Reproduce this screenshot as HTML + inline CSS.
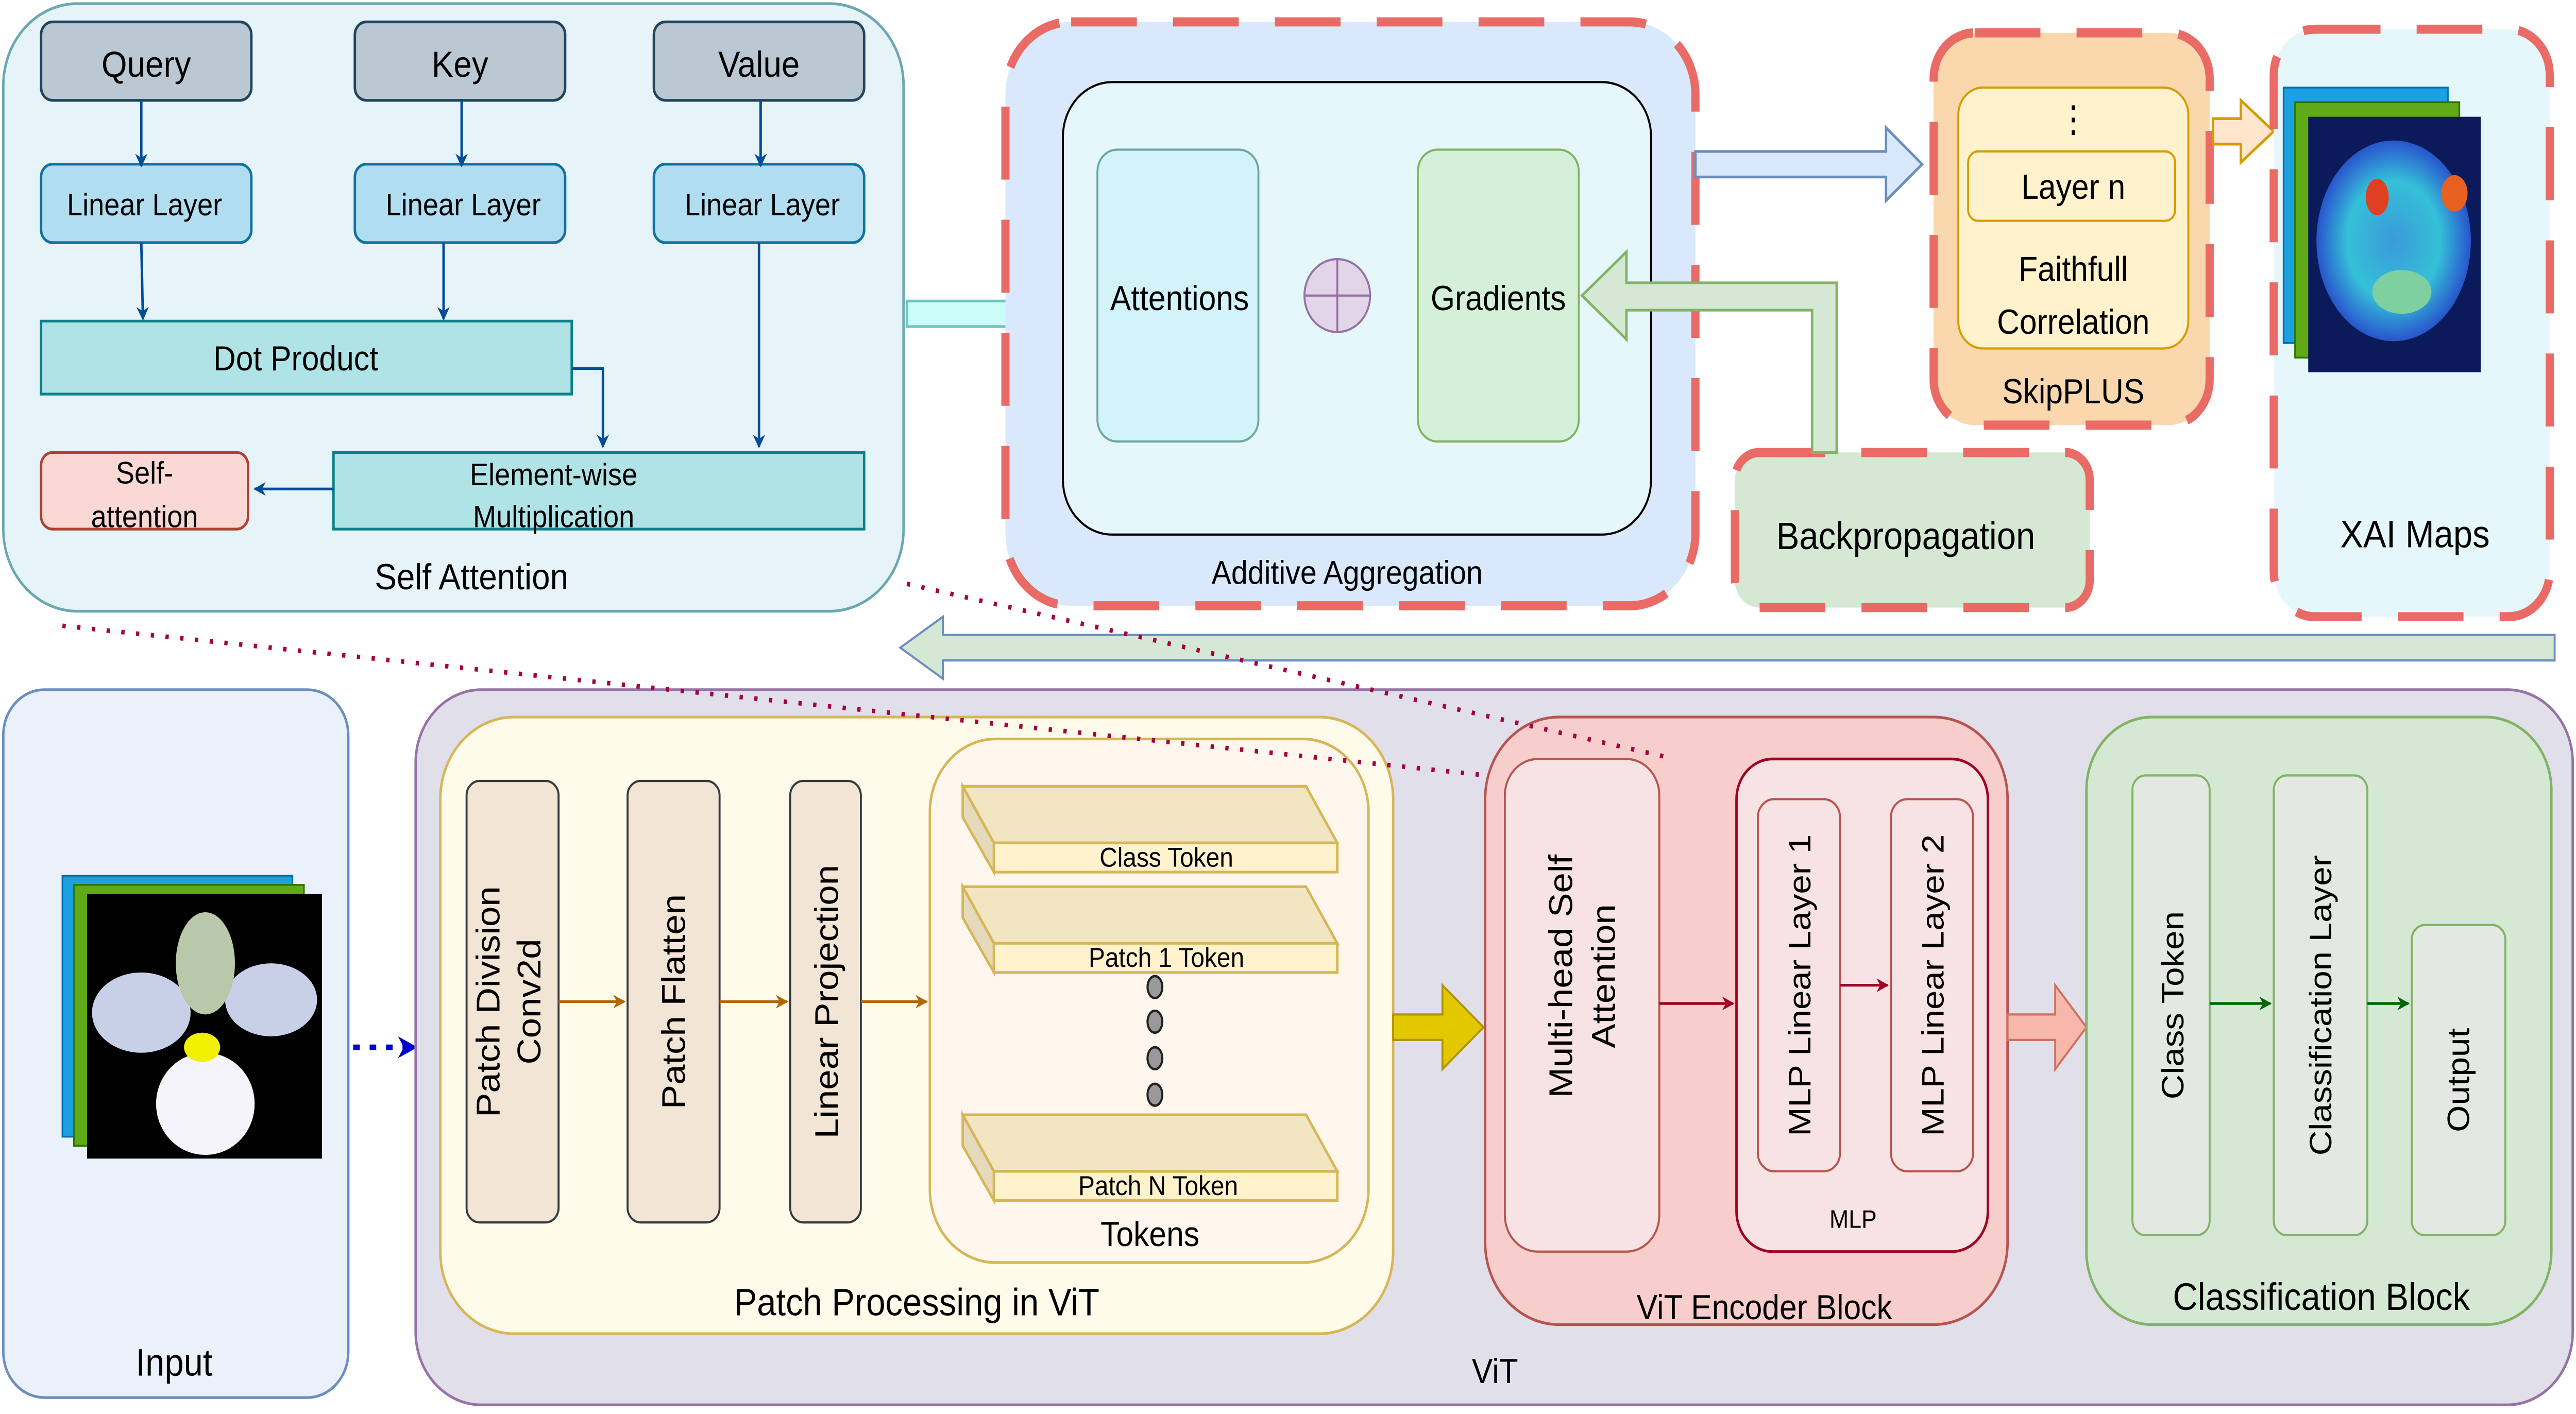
<!DOCTYPE html>
<html><head><meta charset="utf-8"><style>html,body{margin:0;padding:0;background:#fff;width:100%;height:100%;overflow:hidden}svg{display:block;position:absolute;left:0;top:0;width:100vw;height:100vh}text{font-family:"Liberation Sans",sans-serif;fill:#000}</style></head><body>
<svg viewBox="0 0 1568 775" preserveAspectRatio="none" xmlns="http://www.w3.org/2000/svg">
<defs>
<marker id="ab" viewBox="0 0 10 10" refX="9" refY="5" markerWidth="5" markerHeight="6" orient="auto"><path d="M0,0 L10,5 L0,10 L3,5z" fill="#004c99"/></marker>
<marker id="ao" viewBox="0 0 10 10" refX="9" refY="5" markerWidth="5" markerHeight="6" orient="auto"><path d="M0,0 L10,5 L0,10 L3,5z" fill="#b46504"/></marker>
<marker id="ar" viewBox="0 0 10 10" refX="9" refY="5" markerWidth="5" markerHeight="6" orient="auto"><path d="M0,0 L10,5 L0,10 L3,5z" fill="#a20025"/></marker>
<marker id="ag" viewBox="0 0 10 10" refX="9" refY="5" markerWidth="5" markerHeight="6" orient="auto"><path d="M0,0 L10,5 L0,10 L3,5z" fill="#006600"/></marker>
<marker id="abl" viewBox="0 0 10 10" refX="9" refY="5" markerWidth="4" markerHeight="5" orient="auto"><path d="M0,0 L10,5 L0,10 L3,5z" fill="#0000cc"/></marker>
<radialGradient id="hm" cx="50%" cy="50%" r="60%"><stop offset="0" stop-color="#3a9ad8"/><stop offset="0.5" stop-color="#35c0d8"/><stop offset="0.8" stop-color="#2a5fcf"/><stop offset="1" stop-color="#1a2a8a"/></radialGradient>
</defs>
<rect width="1568" height="775" fill="#fff"/>

<rect x="2" y="2" width="548" height="333" rx="45" fill="#e6f4f9" stroke="#6aa8b0" stroke-width="1.5"/>
<g stroke="#23445d" stroke-width="1.5" fill="#bac8d3">
<rect x="25" y="12" width="128" height="43" rx="7"/><rect x="216" y="12" width="128" height="43" rx="7"/><rect x="398" y="12" width="128" height="43" rx="7"/></g>
<g stroke="#10739e" stroke-width="1.5" fill="#b1ddf0">
<rect x="25" y="90" width="128" height="43" rx="7"/><rect x="216" y="90" width="128" height="43" rx="7"/><rect x="398" y="90" width="128" height="43" rx="7"/></g>
<rect x="25" y="176" width="323" height="40" fill="#b0e3e6" stroke="#0e8088" stroke-width="1.5"/>
<rect x="203" y="248" width="323" height="42" fill="#b0e3e6" stroke="#0e8088" stroke-width="1.5"/>
<rect x="25" y="248" width="126" height="42" rx="7" fill="#fad9d5" stroke="#ae4132" stroke-width="1.5"/>
<g font-size="20" text-anchor="middle">
<text x="89" y="42">Query</text><text x="280" y="42">Key</text><text x="462" y="42">Value</text></g>
<g font-size="17" text-anchor="middle">
<text x="88" y="118">Linear Layer</text><text x="282" y="118">Linear Layer</text><text x="464" y="118">Linear Layer</text>
<text x="180" y="203" font-size="19">Dot Product</text>
<text x="337" y="266">Element-wise</text><text x="337" y="289">Multiplication</text>
<text x="88" y="265">Self-</text><text x="88" y="289">attention</text></g>
<text x="287" y="323" font-size="20" text-anchor="middle">Self Attention</text>
<g stroke="#004c99" stroke-width="1.5" fill="none">
<path d="M86,55V91" marker-end="url(#ab)"/><path d="M281,55V91" marker-end="url(#ab)"/><path d="M463,55V91" marker-end="url(#ab)"/>
<path d="M86,133L87,175" marker-end="url(#ab)"/><path d="M270,133V175" marker-end="url(#ab)"/>
<path d="M348,202H367V245" marker-end="url(#ab)"/><path d="M462,133V245" marker-end="url(#ab)"/>
<path d="M203,268H155" marker-end="url(#ab)"/></g>

<path d="M552,165H636V150L665,172L636,194V179H552Z" fill="#ccfcf8" stroke="#6ec4c0" stroke-width="1.5"/>

<rect x="612" y="12" width="420" height="320" rx="40" fill="#dae8fc" stroke="#ea6b66" stroke-width="5" stroke-dasharray="40 22"/>
<rect x="647" y="45" width="358" height="248" rx="30" fill="#e6f7fc" stroke="#000" stroke-width="1.2"/>
<rect x="668" y="82" width="98" height="160" rx="12" fill="#d3f3fb" stroke="#6ea8a0" stroke-width="1.2"/>
<rect x="863" y="82" width="98" height="160" rx="12" fill="#d5f0d8" stroke="#82b366" stroke-width="1.2"/>
<circle cx="814" cy="162" r="20" fill="#e1d5e7" stroke="#9673a6" stroke-width="1.2"/>
<path d="M794,162H834M814,142V182" stroke="#9673a6" stroke-width="1.2"/>
<text x="718" y="170" font-size="19" text-anchor="middle">Attentions</text>
<text x="912" y="170" font-size="19" text-anchor="middle">Gradients</text>
<text x="820" y="320" font-size="18" text-anchor="middle">Additive Aggregation</text>

<path d="M1032,83H1148V70L1170,90L1148,110V97H1032Z" fill="#dae8fc" stroke="#6c8ebf" stroke-width="1.5"/>

<rect x="1177" y="18" width="168" height="215" rx="25" fill="#fad7ac" stroke="#ea6b66" stroke-width="5" stroke-dasharray="40 22"/>
<rect x="1192" y="48" width="140" height="143" rx="15" fill="#fff2cc" stroke="#d79b00" stroke-width="1.2"/>
<rect x="1198" y="83" width="126" height="38" rx="6" fill="#fff2cc" stroke="#d79b00" stroke-width="1.2"/>
<text x="1262" y="72" font-size="20" text-anchor="middle">⋮</text>
<text x="1262" y="109" font-size="19" text-anchor="middle">Layer n</text>
<text x="1262" y="154" font-size="19" text-anchor="middle">Faithfull</text>
<text x="1262" y="183" font-size="19" text-anchor="middle">Correlation</text>
<text x="1262" y="221" font-size="19" text-anchor="middle">SkipPLUS</text>
<path d="M1347,65H1364V55L1384,72L1364,89V79H1347Z" fill="#ffe6cc" stroke="#d79b00" stroke-width="1.5"/>

<rect x="1384" y="16" width="168" height="322" rx="25" fill="#e6f7fc" stroke="#ea6b66" stroke-width="5" stroke-dasharray="40 22"/>
<rect x="1390" y="48" width="100" height="140" fill="#1ba1e2" stroke="#006eaf"/>
<rect x="1397" y="56" width="100" height="140" fill="#60a917" stroke="#2d7600"/>
<rect x="1405" y="64" width="105" height="140" fill="#0a1a5a"/>
<ellipse cx="1457" cy="132" rx="47" ry="55" fill="url(#hm)"/>
<ellipse cx="1447" cy="108" rx="7" ry="10" fill="#e04020"/>
<ellipse cx="1494" cy="106" rx="8" ry="10" fill="#e86020"/>
<ellipse cx="1462" cy="160" rx="18" ry="12" fill="#7fd0a0"/>
<text x="1470" y="300" font-size="21" text-anchor="middle">XAI Maps</text>

<rect x="1056" y="248" width="216" height="85" rx="15" fill="#d5e8d4" stroke="#ea6b66" stroke-width="5" stroke-dasharray="40 22"/>
<text x="1160" y="301" font-size="21" text-anchor="middle">Backpropagation</text>
<path d="M1103,248V170H990V186L963,162L990,138V155H1118V248Z" fill="#d5e8d4" stroke="#82b366" stroke-width="1.5"/>

<path d="M1555,348H574V338L548,355L574,372V362H1555Z" fill="#d5e8d4" stroke="#6c8ebf" stroke-width="1.2"/>

<rect x="2" y="378" width="210" height="388" rx="25" fill="#eaf1fb" stroke="#6c8ebf" stroke-width="1.5"/>
<rect x="38" y="480" width="140" height="143" fill="#1ba1e2" stroke="#006eaf"/>
<rect x="45" y="485" width="140" height="143" fill="#60a917" stroke="#2d7600"/>
<rect x="53" y="490" width="143" height="145" fill="#000"/>
<ellipse cx="86" cy="555" rx="30" ry="22" fill="#c8d0e8"/>
<ellipse cx="165" cy="548" rx="28" ry="20" fill="#c8d0e8"/>
<ellipse cx="125" cy="528" rx="18" ry="28" fill="#b8c8a8"/>
<ellipse cx="125" cy="605" rx="30" ry="28" fill="#f4f4fa"/>
<ellipse cx="123" cy="574" rx="11" ry="8" fill="#f0f000"/>
<text x="106" y="754" font-size="21" text-anchor="middle">Input</text>
<path d="M215,574H253" stroke="#0000cc" stroke-width="3" stroke-dasharray="4 6" marker-end="url(#abl)"/>

<rect x="253" y="378" width="1313" height="392" rx="40" fill="#e1dfe9" stroke="#9673a6" stroke-width="1.5"/>
<text x="910" y="758" font-size="19" text-anchor="middle">ViT</text>

<rect x="268" y="393" width="580" height="338" rx="45" fill="#fffbeb" stroke="#d6b656" stroke-width="1.5"/>
<rect x="566" y="405" width="267" height="287" rx="40" fill="#fff7ee" stroke="#d6b656" stroke-width="1.5"/>
<g fill="#f3e5d5" stroke="#36393d" stroke-width="1.2">
<rect x="284" y="428" width="56" height="242" rx="8"/><rect x="382" y="428" width="56" height="242" rx="8"/><rect x="481" y="428" width="43" height="242" rx="8"/></g>
<g font-size="20" text-anchor="middle">
<text transform="translate(304,549) rotate(-90)">Patch Division</text>
<text transform="translate(329,549) rotate(-90)">Conv2d</text>
<text transform="translate(417,549) rotate(-90)">Patch Flatten</text>
<text transform="translate(510,549) rotate(-90)">Linear Projection</text></g>
<g stroke="#b46504" stroke-width="1.5"><path d="M340,549H380" marker-end="url(#ao)"/><path d="M438,549H479" marker-end="url(#ao)"/><path d="M524,549H564" marker-end="url(#ao)"/></g>
<g stroke="#d6b656" stroke-width="1.5">
<path d="M586,431H795L814,462H605Z" fill="#f1e5c2"/><path d="M586,431L605,462V478L586,448Z" fill="#e5dabb"/><rect x="605" y="462" width="209" height="16" fill="#fff2cc"/>
<path d="M586,486H795L814,517H605Z" fill="#f1e5c2"/><path d="M586,486L605,517V533L586,503Z" fill="#e5dabb"/><rect x="605" y="517" width="209" height="16" fill="#fff2cc"/>
<path d="M586,611H795L814,642H605Z" fill="#f1e5c2"/><path d="M586,611L605,642V658L586,628Z" fill="#e5dabb"/><rect x="605" y="642" width="209" height="16" fill="#fff2cc"/></g>
<g font-size="15" text-anchor="middle"><text x="710" y="475">Class Token</text><text x="710" y="530">Patch 1 Token</text><text x="705" y="655">Patch N Token</text></g>
<g fill="#999" stroke="#222" stroke-width="1.3"><ellipse cx="703" cy="541" rx="4.5" ry="6"/><ellipse cx="703" cy="560" rx="4.5" ry="6"/><ellipse cx="703" cy="580" rx="4.5" ry="6"/><ellipse cx="703" cy="600" rx="4.5" ry="6"/></g>
<text x="700" y="683" font-size="19" text-anchor="middle">Tokens</text>
<text x="558" y="721" font-size="21" text-anchor="middle">Patch Processing in ViT</text>

<path d="M848,556H878V540L903,563L878,586V570H848Z" fill="#e3c800" stroke="#b09500" stroke-width="1.2"/>

<rect x="904" y="393" width="318" height="333" rx="45" fill="#f8cecc" stroke="#b85450" stroke-width="1.5"/>
<rect x="916" y="416" width="94" height="270" rx="20" fill="#f7e3e4" stroke="#b85450" stroke-width="1.2"/>
<rect x="1057" y="416" width="153" height="270" rx="22" fill="#f7e3e4" stroke="#a20025" stroke-width="1.5"/>
<rect x="1070" y="438" width="50" height="204" rx="10" fill="#f7e3e4" stroke="#b85450" stroke-width="1.2"/>
<rect x="1151" y="438" width="50" height="204" rx="10" fill="#f7e3e4" stroke="#b85450" stroke-width="1.2"/>
<g font-size="20" text-anchor="middle">
<text transform="translate(957,535) rotate(-90)">Multi-head Self</text>
<text transform="translate(983,535) rotate(-90)">Attention</text>
<text font-size="19" transform="translate(1102,540) rotate(-90)">MLP Linear Layer 1</text>
<text font-size="19" transform="translate(1183,540) rotate(-90)">MLP Linear Layer 2</text></g>
<g stroke="#a20025" stroke-width="1.5"><path d="M1010,550H1055" marker-end="url(#ar)"/><path d="M1120,540H1149" marker-end="url(#ar)"/></g>
<text x="1128" y="673" font-size="14" text-anchor="middle">MLP</text>
<text x="1074" y="723" font-size="19" text-anchor="middle">ViT Encoder Block</text>

<path d="M1222,556H1251V540L1270,563L1251,586V570H1222Z" fill="#f8b7ab" stroke="#d07060" stroke-width="1.2"/>

<rect x="1270" y="393" width="283" height="333" rx="40" fill="#d5e8d4" stroke="#82b366" stroke-width="1.5"/>
<g fill="#e4e8e2" stroke="#82b366" stroke-width="1.2">
<rect x="1298" y="425" width="47" height="252" rx="8"/><rect x="1384" y="425" width="57" height="252" rx="8"/><rect x="1468" y="507" width="57" height="170" rx="8"/></g>
<g font-size="19" text-anchor="middle">
<text transform="translate(1329,551) rotate(-90)">Class Token</text>
<text transform="translate(1419,551) rotate(-90)">Classification Layer</text>
<text transform="translate(1503,592) rotate(-90)">Output</text></g>
<g stroke="#006600" stroke-width="1.5"><path d="M1345,550H1382" marker-end="url(#ag)"/><path d="M1441,550H1466" marker-end="url(#ag)"/></g>
<text x="1413" y="718" font-size="21" text-anchor="middle">Classification Block</text>

<g stroke="#a50040" stroke-width="2.5" stroke-dasharray="2 7" fill="none">
<path d="M38,343L905,425"/><path d="M552,320L1015,415"/></g>
</svg>
</body></html>
